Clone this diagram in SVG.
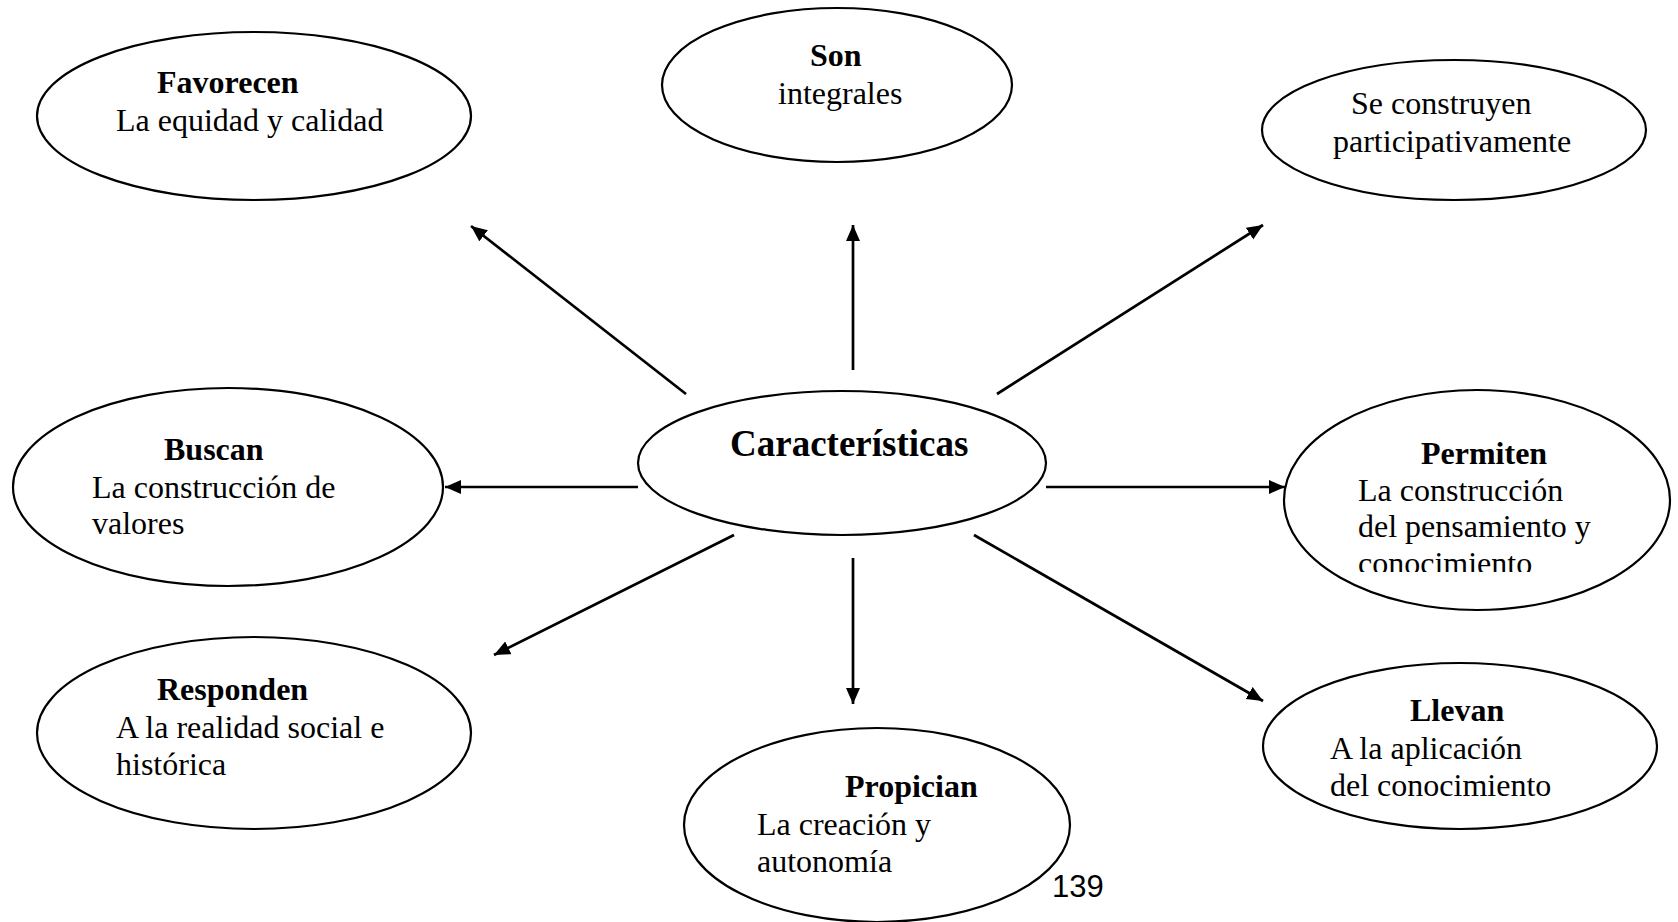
<svg xmlns="http://www.w3.org/2000/svg" width="1678" height="922" viewBox="0 0 1678 922">
<style>
.node ellipse{fill:#fff;stroke:#000;stroke-width:2.2}
.t{font-family:"Liberation Serif","Times New Roman",serif;font-size:32px;fill:#000}
.b{font-weight:bold}
.c{font-size:37px;font-weight:bold}
.conn line{stroke:#000;stroke-width:2.7;marker-end:url(#ah)}
.pg{font-family:"Liberation Sans",Arial,sans-serif;font-size:31px;fill:#000}
</style>
<defs>
<marker id="ah" markerUnits="userSpaceOnUse" markerWidth="18" markerHeight="16" refX="16" refY="7" orient="auto">
<path d="M0,0 L16,7 L0,14 z" fill="#000"/>
</marker>
<clipPath id="clipPerm"><rect x="1280" y="380" width="400" height="192"/></clipPath>
</defs>
<rect width="1678" height="922" fill="#fff"/>
<g id="connectors" class="conn">
<line x1="686" y1="394" x2="471" y2="226"/>
<line x1="853" y1="370" x2="853" y2="225"/>
<line x1="997" y1="394" x2="1263" y2="225"/>
<line x1="638" y1="487" x2="445" y2="487"/>
<line x1="1046" y1="487" x2="1285" y2="487"/>
<line x1="734" y1="535" x2="494" y2="655"/>
<line x1="853" y1="558" x2="853" y2="704"/>
<line x1="974" y1="535" x2="1263" y2="701"/>
</g>
<g id="n-favorecen" class="node">
<ellipse cx="254" cy="116" rx="217" ry="84"/>
<text class="t b" x="157" y="93">Favorecen</text>
<text class="t" x="116" y="131">La equidad y calidad</text>
</g>
<g id="n-son" class="node">
<ellipse cx="837" cy="85" rx="175" ry="77"/>
<text class="t b" x="810" y="66">Son</text>
<text class="t" x="778" y="104">integrales</text>
</g>
<g id="n-construyen" class="node">
<ellipse cx="1454" cy="130" rx="192" ry="70"/>
<text class="t" x="1351" y="114">Se construyen</text>
<text class="t" x="1333" y="152">participativamente</text>
</g>
<g id="n-buscan" class="node">
<ellipse cx="228" cy="487" rx="215" ry="99"/>
<text class="t b" x="164" y="460">Buscan</text>
<text class="t" x="92" y="498">La construcción de</text>
<text class="t" x="92" y="534">valores</text>
</g>
<g id="n-caracteristicas" class="node">
<ellipse cx="842" cy="463" rx="204" ry="72"/>
<text class="t c" x="730" y="456">Características</text>
</g>
<g id="n-permiten" class="node">
<ellipse cx="1477" cy="500" rx="193" ry="110"/>
<text class="t b" x="1421" y="464">Permiten</text>
<g clip-path="url(#clipPerm)">
<text class="t" x="1358" y="501">La construcción</text>
<text class="t" x="1358" y="537">del pensamiento y</text>
<text class="t" x="1358" y="574">conocimiento</text>
</g>
</g>
<g id="n-responden" class="node">
<ellipse cx="254" cy="733" rx="217" ry="96"/>
<text class="t b" x="157" y="700">Responden</text>
<text class="t" x="116" y="738">A la realidad social e</text>
<text class="t" x="116" y="775">histórica</text>
</g>
<g id="n-propician" class="node">
<ellipse cx="877" cy="825" rx="193" ry="97"/>
<text class="t b" x="845" y="797">Propician</text>
<text class="t" x="757" y="835">La creación y</text>
<text class="t" x="757" y="872">autonomía</text>
</g>
<g id="n-llevan" class="node">
<ellipse cx="1460" cy="746" rx="197" ry="83"/>
<text class="t b" x="1410" y="721">Llevan</text>
<text class="t" x="1330" y="759">A la aplicación</text>
<text class="t" x="1330" y="796">del conocimiento</text>
</g>
<text class="pg" x="1052" y="897">139</text>
</svg>
